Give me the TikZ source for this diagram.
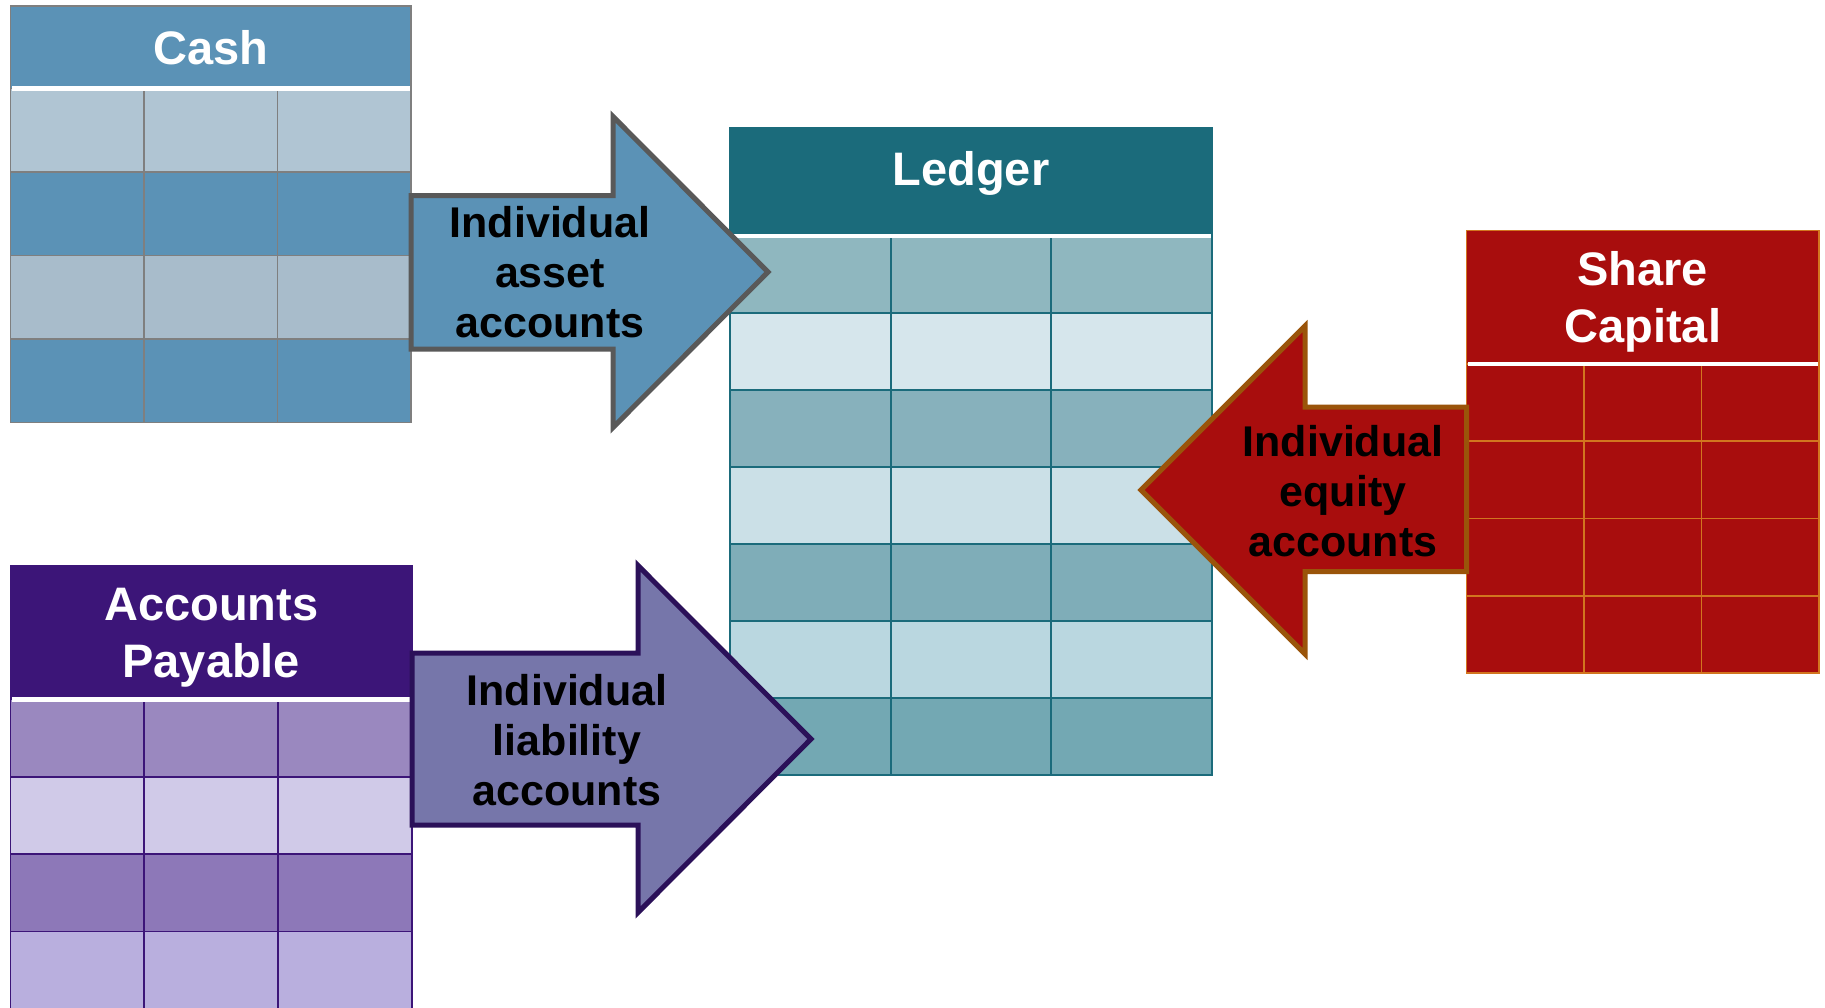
\documentclass[tikz,border=0pt]{standalone}
\usepackage{fontspec}
\setmainfont{Liberation Sans}
\usetikzlibrary{positioning, calc}
\definecolor{cashblue}{HTML}{5B92B6}
\definecolor{cashpale}{HTML}{B0C5D3}
\definecolor{cashmist}{HTML}{A8BCCB}
\definecolor{cashgrid}{HTML}{7F7F7F}
\definecolor{assetedge}{HTML}{595959}
\definecolor{ledgerteal}{HTML}{1B6B7B}
\definecolor{ledgerA}{HTML}{8FB7BF}
\definecolor{ledgerB}{HTML}{D6E6EC}
\definecolor{ledgerC}{HTML}{87B1BC}
\definecolor{ledgerD}{HTML}{CBE0E7}
\definecolor{ledgerE}{HTML}{7FADB8}
\definecolor{ledgerF}{HTML}{BAD7E0}
\definecolor{ledgerG}{HTML}{73A8B3}
\definecolor{sharered}{HTML}{A80D0D}
\definecolor{sharegrid}{HTML}{D2751F}
\definecolor{equityedge}{HTML}{9A540A}
\definecolor{apurple}{HTML}{3C1578}
\definecolor{apA}{HTML}{9A88BF}
\definecolor{apB}{HTML}{D0CAE8}
\definecolor{apC}{HTML}{8D78B8}
\definecolor{apD}{HTML}{B9AFDE}
\definecolor{liabfill}{HTML}{7676AA}
\definecolor{liabedge}{HTML}{2B1159}
\newcommand{\headfont}{\fontsize{47}{57}\selectfont\bfseries}
\newcommand{\arrowfont}{\fontsize{43}{50}\selectfont\bfseries}

\begin{document}
\begin{tikzpicture}[
    x=1pt, y=-1pt,
    header/.style={draw, line width=1.8pt, anchor=north west, inner sep=0pt, outer sep=0pt, text depth=0pt, align=center, text=white, font=\headfont},
    acctrow/.style={draw, line width=1.8pt, inner sep=0pt, outer sep=0pt},
    cashrow/.style={acctrow, draw=cashgrid, fill=#1, minimum width=400.5pt, minimum height=83.5pt},
    ledgerrow/.style={acctrow, draw=ledgerteal, fill=#1, minimum width=482pt, minimum height=77pt},
    sharerow/.style={acctrow, draw=sharegrid, fill=sharered, minimum width=352.5pt, minimum height=77.25pt},
    aprow/.style={acctrow, draw=apurple, fill=#1, minimum width=401.5pt, minimum height=77.3pt},
    divider/.style={white, line width=4.5pt, shorten <=1.5pt, shorten >=1.5pt},
    gridline/.style={line width=1.8pt},
    blockarrow/.style={line width=5pt, line join=miter},
    flowtext/.style={font=\arrowfont, align=center, text=black}
  ]
    \useasboundingbox (0,0) rectangle (1825,1007);
    \fill[white] (0,0) rectangle (1825,1007);
    \clip (0,0) rectangle (1825,1007);

    % Cash account
    \node[header, draw=cashgrid, fill=cashblue, minimum width=400.5pt, minimum height=82.5pt] (cash) at (10.5,6) {Cash};
    \node[cashrow=cashpale, below=0pt of cash] (cash1) {};
    \node[cashrow=cashblue, below=0pt of cash1] (cash2) {};
    \node[cashrow=cashmist, below=0pt of cash2] (cash3) {};
    \node[cashrow=cashblue, below=0pt of cash3] (cash4) {};
    \draw[gridline, cashgrid] ($(cash1.north west)!1/3!(cash1.north east)$) -- ($(cash4.south west)!1/3!(cash4.south east)$);
    \draw[gridline, cashgrid] ($(cash1.north west)!2/3!(cash1.north east)$) -- ($(cash4.south west)!2/3!(cash4.south east)$);
    \draw[divider] (cash.south west) -- (cash.south east);

    % Ledger
    \node[header, draw=ledgerteal, fill=ledgerteal, minimum width=482pt, minimum height=108pt, text depth=28pt] (ledger) at (730,128) {Ledger};
    \node[ledgerrow=ledgerA, below=0pt of ledger] (ledger1) {};
    \node[ledgerrow=ledgerB, below=0pt of ledger1] (ledger2) {};
    \node[ledgerrow=ledgerC, below=0pt of ledger2] (ledger3) {};
    \node[ledgerrow=ledgerD, below=0pt of ledger3] (ledger4) {};
    \node[ledgerrow=ledgerE, below=0pt of ledger4] (ledger5) {};
    \node[ledgerrow=ledgerF, below=0pt of ledger5] (ledger6) {};
    \node[ledgerrow=ledgerG, below=0pt of ledger6] (ledger7) {};
    \draw[gridline, ledgerteal] ($(ledger1.north west)!1/3!(ledger1.north east)$) -- ($(ledger7.south west)!1/3!(ledger7.south east)$);
    \draw[gridline, ledgerteal] ($(ledger1.north west)!2/3!(ledger1.north east)$) -- ($(ledger7.south west)!2/3!(ledger7.south east)$);
    \draw[divider] (ledger.south west) -- (ledger.south east);

    % Share capital account
    \node[header, draw=sharegrid, fill=sharered, minimum width=352.5pt, minimum height=133.5pt] (share) at (1466.5,230.5) {Share\\Capital};
    \node[sharerow, below=0pt of share] (share1) {};
    \node[sharerow, below=0pt of share1] (share2) {};
    \node[sharerow, below=0pt of share2] (share3) {};
    \node[sharerow, below=0pt of share3] (share4) {};
    \draw[gridline, sharegrid] ($(share1.north west)!1/3!(share1.north east)$) -- ($(share4.south west)!1/3!(share4.south east)$);
    \draw[gridline, sharegrid] ($(share1.north west)!2/3!(share1.north east)$) -- ($(share4.south west)!2/3!(share4.south east)$);
    \draw[divider] (share.south west) -- (share.south east);

    % Accounts payable
    \node[header, draw=apurple, fill=apurple, minimum width=401.5pt, minimum height=133.8pt] (payable) at (10.5,565.7) {Accounts\\Payable};
    \node[aprow=apA, below=0pt of payable] (payable1) {};
    \node[aprow=apB, below=0pt of payable1] (payable2) {};
    \node[aprow=apC, below=0pt of payable2] (payable3) {};
    \node[aprow=apD, below=0pt of payable3] (payable4) {};
    \draw[gridline, apurple] ($(payable1.north west)!1/3!(payable1.north east)$) -- ($(payable4.south west)!1/3!(payable4.south east)$);
    \draw[gridline, apurple] ($(payable1.north west)!2/3!(payable1.north east)$) -- ($(payable4.south west)!2/3!(payable4.south east)$);
    \draw[divider] (payable.south west) -- (payable.south east);

    % Block arrows into the ledger
    \draw[blockarrow, draw=assetedge, fill=cashblue] (411,195.5) -- (613,195.5) -- (613,116.5) -- (768,272) -- (613,427.5) -- (613,349) -- (411,349) -- cycle;
    \draw[blockarrow, draw=liabedge, fill=liabfill] (412,653) -- (638,653) -- (638,565.5) -- (811,739) -- (638,912.5) -- (638,825) -- (412,825) -- cycle;
    \draw[blockarrow, draw=equityedge, fill=sharered] (1466.5,407) -- (1305,407) -- (1305,326) -- (1141,490) -- (1305,654) -- (1305,571.5) -- (1466.5,571.5) -- cycle;

    % Arrow captions
    \node[flowtext] (assets) at (550,272) {Individual\\asset\\accounts};
    \node[flowtext] (liabilities) at (567,740) {Individual\\liability\\accounts};
    \node[flowtext] (equity) at (1343,491) {Individual\\equity\\accounts};
  \end{tikzpicture}
\end{document}
